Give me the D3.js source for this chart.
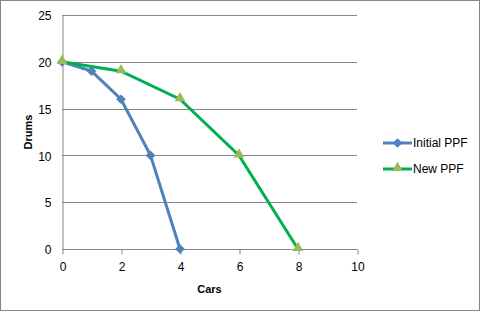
<!DOCTYPE html>
<html>
<head>
<meta charset="utf-8">
<script src="https://cdn.jsdelivr.net/npm/d3@7"></script>
<style>
  body { margin: 0; background: #fff; }
  text { font-family: "Liberation Sans", Arial, sans-serif; fill: #000; }
</style>
</head>
<body>
<div id="chart"></div>
<script>
(function () {

  // Data
  const initialCars = [0, 1, 2, 3, 4]
  const initialDrums = [20, 19, 16, 10, 0]
  const newCars = [0, 2, 4, 6, 8]
  const newDrums = [20, 19, 16, 10, 0]
  const xTicks = [0, 2, 4, 6, 8, 10]
  const yTicks = [0, 5, 10, 15, 20, 25]
  const seriesNames = ["Initial PPF", "New PPF"]

  const W = 481, H = 312
  const margin = { top: 15, right: 124, bottom: 63, left: 62 }

  const svg = d3.select("#chart").append("svg")
      .attr("width", W)
      .attr("height", H)

  // Chart border
  svg.append("rect")
    .attr("x", 0.5).attr("y", 0.5)
    .attr("width", W - 2).attr("height", H - 2)
    .attr("fill", "#fff")
    .attr("stroke", "#868686")

  const x = d3.scaleLinear().domain([0, 10]).range([margin.left, W - margin.right])
  const y = d3.scaleLinear().domain([0, 25]).range([H - margin.bottom, margin.top])

  // Gridlines
  svg.append("g")
    .selectAll("line")
    .data(yTicks)
    .join("line")
    .attr("x1", x(0)).attr("x2", x(10))
    .attr("y1", d => Math.round(y(d)) + 0.5)
    .attr("y2", d => Math.round(y(d)) + 0.5)
    .attr("stroke", "#868686")

  // Y axis
  const yAxis = svg.append("g")
    .attr("transform", "translate(" + (Math.round(x(0)) + 0.5) + ",0.5)")
    .call(d3.axisLeft(y).tickValues(yTicks).tickSize(0).tickPadding(11))
  yAxis.select(".domain").attr("stroke", "#868686")
  yAxis.selectAll("text").style("font-size", "12px").attr("dy", "0.35em")

  // X axis
  const xAxis = svg.append("g")
    .attr("transform", "translate(0.5," + (Math.round(y(0)) + 0.5) + ")")
    .call(d3.axisBottom(x).tickValues(xTicks).tickSize(5).tickPadding(8))
  xAxis.select(".domain").attr("stroke", "#868686")
    .attr("d", "M" + x(0) + ",0H" + x(10))
  xAxis.selectAll("line").attr("stroke", "#868686")
  xAxis.selectAll("text").style("font-size", "12px")

  // Axis titles
  svg.append("text")
    .attr("x", (x(0) + x(10)) / 2)
    .attr("y", 293)
    .attr("text-anchor", "middle")
    .style("font-size", "11px")
    .style("font-weight", "bold")
    .text("Cars")

  svg.append("text")
    .attr("transform", "translate(32," + (y(12.5)) + ") rotate(-90)")
    .attr("text-anchor", "middle")
    .style("font-size", "11px")
    .style("font-weight", "bold")
    .text("Drums")

  const line = d3.line().x(d => x(d[0])).y(d => y(d[1]))

  const initialPts = initialCars.map((c, i) => [c, initialDrums[i]])
  const newPts = newCars.map((c, i) => [c, newDrums[i]])

  const blue = "#4F81BD", green = "#00B050", olive = "#9BBB59"
  const diamond = d3.symbol().type(d3.symbolDiamond2).size(60)
  const triangle = d3.symbol().type(d3.symbolTriangle).size(50)

  // Initial PPF
  svg.append("path")
    .datum(initialPts)
    .attr("d", line)
    .attr("fill", "none")
    .attr("stroke", blue)
    .attr("stroke-width", 3)
  svg.append("g")
    .selectAll("path")
    .data(initialPts)
    .join("path")
    .attr("d", diamond)
    .attr("transform", d => "translate(" + x(d[0]) + "," + y(d[1]) + ")")
    .attr("fill", blue)

  // New PPF
  svg.append("path")
    .datum(newPts)
    .attr("d", line)
    .attr("fill", "none")
    .attr("stroke", green)
    .attr("stroke-width", 3)
  svg.append("g")
    .selectAll("path")
    .data(newPts)
    .join("path")
    .attr("d", triangle)
    .attr("transform", d => "translate(" + x(d[0]) + "," + (y(d[1]) - 1) + ")")
    .attr("fill", olive)

  // Legend
  const legend = svg.append("g")
  const legendY = [143, 169]
  const colors = [blue, green]
  seriesNames.forEach((name, i) => {
    legend.append("line")
      .attr("x1", 383).attr("x2", 412)
      .attr("y1", legendY[i]).attr("y2", legendY[i])
      .attr("stroke", colors[i]).attr("stroke-width", 3)
    legend.append("path")
      .attr("d", i === 0 ? diamond : triangle)
      .attr("transform", "translate(397.5," + (legendY[i] - (i === 0 ? 0 : 1)) + ")")
      .attr("fill", i === 0 ? blue : olive)
    legend.append("text")
      .attr("x", 413).attr("y", legendY[i])
      .attr("dy", "0.35em")
      .style("font-size", "12px")
      .text(name)
  })

})();
</script>
</body>
</html>
